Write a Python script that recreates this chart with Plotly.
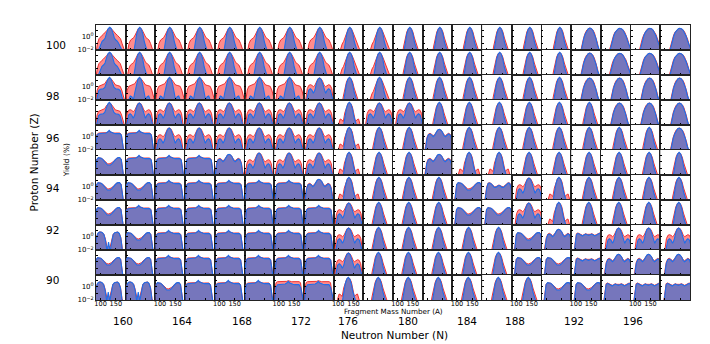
import plotly.graph_objects as go
from plotly.subplots import make_subplots

# grid of nuclei: rows Z=100 (top) -> 90 (bottom), cols N=160 -> 198
z_values = [100, 99, 98, 97, 96, 95, 94, 93, 92, 91, 90]
n_values = [160, 162, 164, 166, 168, 170, 172, 174, 176, 178,
            180, 182, 184, 186, 188, 190, 192, 194, 196, 198]
z_labels = [100, 98, 96, 94, 92, 90]
n_labels = [160, 164, 168, 172, 176, 180, 184, 188, 192, 196]

# offsets from symmetric mass A_cn/2, left half (mirrored for right half)
d_half = [-60, -55, -50, -45, -40, -35, -30, -25, -20, -15, -10, -5, 0]

# log10 yield (%) profiles, [blue, red]
shapes = {
    'N':  [[-3, -3, -3, -3, -3, -3, -3, -3, -2.4, -0.8, 0.4, 1.15, 1.4],
           [-3, -3, -3, -3, -3, -3, -3, -2.7, -1.4, -0.2, 0.7, 1.2, 1.35]],
    'V':  [[-3, -3, -3, -3, -3, -3, -2.6, -1.3, -0.3, 0.4, 0.9, 1.2, 1.3],
           [-3, -3, -3, -3, -3, -3, -2.2, -1.0, -0.1, 0.55, 1.0, 1.2, 1.3]],
    'W':  [[-3, -3, -3, -3, -3, -2.6, -1.6, -0.6, 0.1, 0.65, 1.0, 1.2, 1.25],
           [-3, -3, -3, -3, -3, -2.2, -1.2, -0.35, 0.3, 0.75, 1.05, 1.2, 1.25]],
    'S':  [[-3, -3, -3, -3, -3, -3, -3, -3, -2.4, -0.8, 0.4, 1.15, 1.4],
           [-3, -3, -3, -3, -2.2, -1.0, -0.5, -0.3, -0.15, 0.25, 0.8, 1.2, 1.35]],
    'S0': [[-3, -3, -3, -3, -2.8, -1.8, -1.1, -0.7, -0.5, -0.2, 0.6, 1.2, 1.4],
           [-3, -3, -3, -2.4, -1.0, -0.3, 0.0, 0.2, 0.4, 0.6, 0.9, 1.2, 1.35]],
    'R':  [[-3, -3, -3, -3, -3, -3, -3, -3, -2.4, -0.8, 0.4, 1.15, 1.4],
           [-3, -3, -3, -3, -3, -2.6, -1.7, -1.1, -0.7, 0.0, 0.7, 1.2, 1.35]],
    'P':  [[-3, -3, -3, -3, -3, -2.0, -1.4, -1.5, -2.0, -0.8, 0.4, 1.15, 1.4],
           [-3, -3, -3, -2.2, -0.5, 0.05, 0.15, 0.2, 0.25, 0.45, 0.85, 1.2, 1.35]],
    'Q':  [[-3, -3, -3, -3, -1.6, -0.6, -0.4, -0.35, -0.3, -0.1, 0.5, 1.15, 1.4],
           [-3, -3, -3, -2.2, -0.5, 0.05, 0.15, 0.2, 0.25, 0.45, 0.85, 1.2, 1.35]],
    'T':  [[-3, -3, -3, -3, -1.6, -0.5, -0.3, -0.5, -1.0, -0.5, 0.5, 1.1, 1.3],
           [-3, -3, -3, -2.0, -0.3, 0.2, 0.3, 0.2, 0.0, 0.2, 0.8, 1.2, 1.3]],
    'T2': [[-3, -3, -3, -2.0, -0.3, 0.3, 0.4, 0.25, 0.0, 0.2, 0.7, 1.0, 1.1],
           [-3, -3, -3, -1.5, -0.1, 0.4, 0.5, 0.35, 0.15, 0.3, 0.75, 1.0, 1.1]],
    'C':  [[-3, -3, -3, -3, -3, -3, -3, -3, -2.4, -0.8, 0.4, 1.15, 1.4],
           [-3, -3, -3, -3, -3, -1.9, -1.1, -1.2, -1.5, -0.2, 0.7, 1.2, 1.35]],
    'F':  [[-3, -3, -3, -1.9, 0.2, 0.45, 0.45, 0.45, 0.45, 0.5, 0.55, 0.7, 0.95],
           [-3, -3, -3, -1.6, 0.3, 0.55, 0.55, 0.55, 0.55, 0.55, 0.6, 0.7, 0.85]],
    'FR': [[-3, -3, -3, -2.2, -0.1, 0.3, 0.3, 0.3, 0.3, 0.35, 0.4, 0.55, 0.8],
           [-3, -3, -3, -1.0, 0.6, 0.75, 0.75, 0.75, 0.75, 0.75, 0.75, 0.8, 0.9]],
    'D':  [[-3, -3, -3, -1.8, 0.3, 0.6, 0.6, 0.5, 0.3, 0.0, -0.3, -0.5, -0.5],
           [-3, -3, -3, -1.5, 0.4, 0.6, 0.6, 0.5, 0.35, 0.1, -0.15, -0.3, -0.35]],
    'E':  [[-3, -3, -3, -2.0, -0.2, 0.5, 0.7, 0.7, 0.6, 0.3, -0.6, -2.2, -0.8],
           [-3, -3, -3, -1.8, -0.1, 0.5, 0.7, 0.7, 0.6, 0.35, -0.4, -1.6, -1.4]],
    'K':  [[-3, -3, -3, -2.0, -0.2, 0.5, 0.55, 0.4, 0.1, -0.1, -0.1, 0.1, 0.2],
           [-3, -3, -3, -1.7, 0.0, 0.55, 0.6, 0.45, 0.2, 0.0, 0.0, 0.15, 0.25]],
    'M':  [[-3, -3, -3, -1.6, 0.3, 0.5, 0.4, 0.2, 0.1, 0.25, 0.4, 0.3, 0.2],
           [-3, -3, -3, -1.3, 0.45, 0.55, 0.45, 0.3, 0.2, 0.3, 0.45, 0.35, 0.3]],
}

# which profile each panel shows
grid = [
    "S0 S S S S S S S R R N N N N N N V W W W",
    "S0 S S S S S S S R R N N N N N N V W W W",
    "Q P P P P P P T N R N N N N N N V V V V",
    "Q T T T T T T T C T T N N N N N N V V V",
    "F F T T T T T T C N N T2 N N N N N N N V",
    "D F F F T2 T T T C N N T2 C C N N N N N N",
    "D D F F F F F T2 C N N N D K T C N N N N",
    "D F F F F F F F T N N N D D T C N N N N",
    "E D F F F F F F T N N N N N D T2 M T T T",
    "D D F F F F F F T N N N N N D D M T2 T2 T2",
    "E E D F F F FR FR C N N N N N N D D M M M",
]

nrow, ncol = len(z_values), len(n_values)
fig = make_subplots(rows=nrow, cols=ncol, horizontal_spacing=0, vertical_spacing=0)

d_full = d_half + [-d for d in d_half[-2::-1]]
traces = []
for r, z in enumerate(z_values):
    codes = grid[r].split()
    for c, n in enumerate(n_values):
        k = r * ncol + c + 1
        xa = 'x' if k == 1 else 'x%d' % k
        ya = 'y' if k == 1 else 'y%d' % k
        blue, red = shapes[codes[c]]
        a_mid = (z + n) / 2
        xs = [a_mid + d for d in d_full]
        for prof, fc, lc, lw in [(red, 'rgba(255,0,0,0.45)', 'rgb(240,50,50)', 1.0),
                                 (blue, 'rgba(6,100,227,0.55)', 'rgb(30,110,235)', 1.1)]:
            full = prof + prof[-2::-1]
            ys = [10 ** v for v in full]
            traces.append(go.Scatter(
                x=xs + [xs[-1], xs[0], xs[0]],
                y=ys + [1e-4, 1e-4, ys[0]],
                mode='lines', fill='toself', fillcolor=fc,
                line={'color': lc, 'width': lw},
                xaxis=xa, yaxis=ya, hoverinfo='skip', showlegend=False))
fig.add_traces(traces)

fig.update_xaxes(range=[85, 182], tickvals=[100, 150], ticks='inside', ticklen=2,
                 tickcolor='black', showgrid=False, zeroline=False, showline=True,
                 linecolor='#222', linewidth=0.8, mirror=True, showticklabels=False,
                 tickangle=0, automargin=False, ticklabelstandoff=-3,
                 tickfont={'size': 6.6, 'color': 'black'})
fig.update_yaxes(type='log', range=[-2, 1.75], tickvals=[0.01, 0.1, 1, 10],
                 ticktext=['10<sup>−2</sup>', ' ', '10<sup>0</sup>', ' '],
                 ticks='inside', ticklen=2, tickcolor='black', showgrid=False,
                 zeroline=False, showline=True, linecolor='#222', linewidth=0.8,
                 mirror=True, showticklabels=False, automargin=False,
                 tickfont={'size': 7, 'color': 'black'})

for r in range(nrow):
    for c in range(ncol):
        k = r * ncol + c + 1
        key = '' if k == 1 else str(k)
        if r == nrow - 1 and c % 2 == 0:
            fig.layout['xaxis' + key].showticklabels = True
        if c == 0 and r % 2 == 0:
            fig.layout['yaxis' + key].showticklabels = True

annots = []
for z in z_labels:
    r = z_values.index(z)
    annots.append(dict(x=-0.088, y=1 - (r + 0.5) / nrow, text=str(z), showarrow=False,
                       xref='paper', yref='paper', font={'size': 10.5}))
for n in n_labels:
    c = n_values.index(n)
    annots.append(dict(x=(c + 0.5) / ncol, y=-0.106, text=str(n), showarrow=False,
                       xref='paper', yref='paper', font={'size': 10.5}))
annots.append(dict(x=0.503, y=-0.155, text='Neutron Number (N)', showarrow=False,
                   xref='paper', yref='paper', font={'size': 10.5}))
annots.append(dict(x=0.5, y=-0.066, text='Fragment Mass Number (A)', showarrow=False,
                   xref='paper', yref='paper', font={'size': 7.2}))
annots.append(dict(x=-0.118, y=0.5, text='Proton Number (Z)', showarrow=False,
                   textangle=-90, xref='paper', yref='paper', font={'size': 10.5}))
annots.append(dict(x=-0.061, y=0.509, text='Yield (%)', showarrow=False,
                   textangle=-90, xref='paper', yref='paper', font={'size': 7.5}))

fig.update_layout(
    width=710, height=344,
    margin={'l': 88, 'r': 28, 't': 17, 'b': 52, 'autoexpand': False},
    plot_bgcolor='white', paper_bgcolor='white',
    font={'family': 'DejaVu Sans', 'color': 'black'},
    annotations=annots,
    showlegend=False,
)

fig.write_html("out.html")
